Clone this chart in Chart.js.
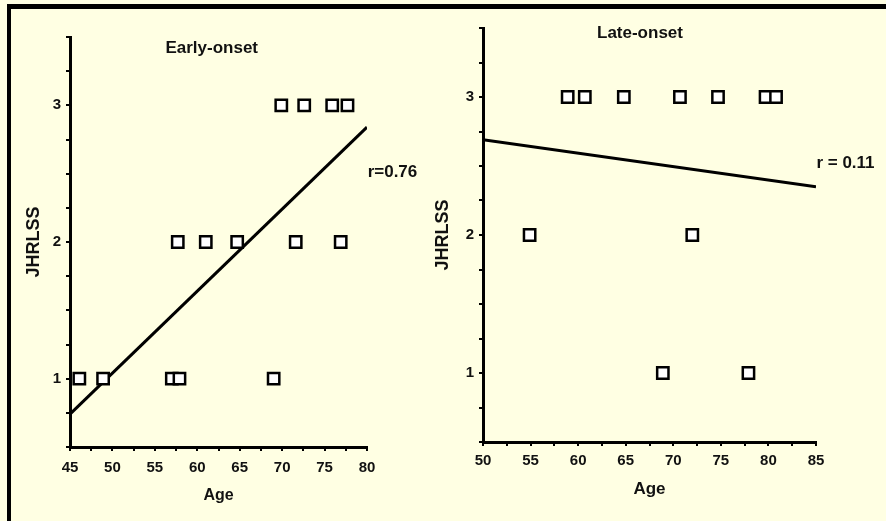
<!DOCTYPE html>
<html>
<head>
<meta charset="utf-8">
<script src="https://cdn.jsdelivr.net/npm/chart.js@4.4.1/dist/chart.umd.min.js"></script>
<style>
  html, body { margin:0; padding:0; background:#FFFFE3; width:886px; height:521px; overflow:hidden; }
  #frame { position:absolute; left:7px; top:4px; width:879px; height:513px; border-top:5px solid #000; border-left:4px solid #000; border-bottom:2px solid #444; box-sizing:content-box; }
  canvas { position:absolute; top:0; }
  #c1 { left:0; }
  #c2 { left:420px; }
</style>
</head>
<body>
<div id="frame"></div>
<canvas id="c1" width="443" height="521"></canvas>
<canvas id="c2" width="466" height="521"></canvas>
<script>
// ---- Data ----
const earlyAge   = [46.1, 48.9, 57.0, 57.9, 69.0, 57.7, 61.0, 64.7, 71.6, 76.9, 69.9, 72.6, 75.9, 77.7];
const earlyScore = [1, 1, 1, 1, 1, 2, 2, 2, 2, 2, 3, 3, 3, 3];
const earlyFitAge   = [45, 80];
const earlyFitScore = [0.74, 2.84];

const lateAge   = [54.9, 72.0, 68.9, 77.9, 58.9, 60.7, 64.8, 70.7, 74.7, 79.7, 80.8];
const lateScore = [2, 2, 1, 1, 3, 3, 3, 3, 3, 3, 3];
const lateFitAge   = [50, 85];
const lateFitScore = [2.69, 2.35];

const yTickLabels = [1, 2, 3];
const earlyXTickLabels = [45, 50, 55, 60, 65, 70, 75, 80];
const lateXTickLabels  = [50, 55, 60, 65, 70, 75, 80, 85];

const earlyTitle = "Early-onset";
const lateTitle  = "Late-onset";
const earlyR = "r=0.76";
const lateR  = "r = 0.11";
const xTitle = "Age";
const yTitle = "JHRLSS";

// annotation anchors in data space
const earlyTitlePos = [61.7, 3.42];
const earlyRPos     = [83.0, 2.51];
const lateTitlePos  = [66.5, 3.46];
const lateRPos      = [88.1, 2.52];

const FONT = "'Liberation Sans', Arial, Helvetica, sans-serif";

function pts(xs, ys){ return xs.map((x,i)=>({x:x, y:ys[i]})); }

const textPlugin = {
  id: 'txt',
  afterDraw(chart, args, opts){
    const ctx = chart.ctx, xs = chart.scales.x, ys = chart.scales.y;
    ctx.save();
    ctx.fillStyle = '#111';
    ctx.textAlign = 'center';
    ctx.textBaseline = 'middle';
    opts.items.forEach(it => {
      ctx.font = it.font;
      ctx.fillText(it.text, xs.getPixelForValue(it.pos[0]), ys.getPixelForValue(it.pos[1]));
    });
    ctx.restore();
  }
};

function makeChart(id, cfg){
  const c = cfg;
  return new Chart(document.getElementById(id), {
    type: 'scatter',
    data: {
      datasets: [
        {
          data: pts(c.ax, c.ay),
          pointStyle: 'rect',
          pointRadius: 8,
          pointHoverRadius: 8,
          pointBorderWidth: 2.5,
          pointBackgroundColor: '#ffffff',
          pointBorderColor: '#000000'
        },
        {
          data: pts(c.fx, c.fy),
          showLine: true,
          borderColor: '#000000',
          borderWidth: 3,
          pointRadius: 0,
          fill: false
        }
      ]
    },
    options: {
      responsive: false,
      animation: false,
      events: [],
      layout: { padding: c.padding },
      plugins: {
        legend: { display: false },
        tooltip: { enabled: false },
        txt: { items: c.items }
      },
      scales: {
        x: {
          type: 'linear',
          min: c.xmin, max: c.xmax,
          border: { display: true, color: '#000', width: 3 },
          grid: { display: true, drawOnChartArea: false, drawTicks: true, tickLength: 4, color: '#000', lineWidth: 2 },
          ticks: {
            stepSize: 2.5, autoSkip: false, maxRotation: 0, padding: c.xtkPad,
            color: '#111', font: { family: FONT, size: 15, weight: 'bold' },
            callback: v => c.xlabels.includes(v) ? String(v) : ''
          },
          title: { display: true, text: xTitle, color: '#111', font: { family: FONT, size: c.xtSize, weight: 'bold' }, padding: { top: 0, bottom: c.xtPad } },
          afterFit(s){ s.height = c.xh; s.paddingLeft = 0; s.paddingRight = 0; }
        },
        y: {
          type: 'linear',
          min: 0.5, max: 3.5,
          border: { display: true, color: '#000', width: 3 },
          grid: { display: true, drawOnChartArea: false, drawTicks: true, tickLength: 4, color: '#000', lineWidth: 2 },
          ticks: {
            stepSize: 0.25, autoSkip: false, padding: 5,
            color: '#111', font: { family: FONT, size: 15, weight: 'bold' },
            callback: v => yTickLabels.includes(v) ? String(v) : ''
          },
          title: { display: true, text: yTitle, color: '#111', font: { family: FONT, size: 18, weight: 'bold' }, padding: { top: c.ytPad, bottom: 0 } },
          afterFit(s){ s.width = c.yw; s.paddingTop = 0; s.paddingBottom = 0; }
        }
      }
    },
    plugins: [textPlugin]
  });
}

makeChart('c1', {
  ax: earlyAge, ay: earlyScore, fx: earlyFitAge, fy: earlyFitScore,
  xmin: 45, xmax: 80, xlabels: earlyXTickLabels,
  padding: { left: 0, top: 37, right: 76, bottom: 0 },
  xh: 74, yw: 70, xtSize: 16, xtPad: 16, ytPad: 23, xtkPad: 8,
  items: [
    { text: earlyTitle, pos: earlyTitlePos, font: "bold 17px " + FONT },
    { text: earlyR, pos: earlyRPos, font: "bold 17px " + FONT }
  ]
});

makeChart('c2', {
  ax: lateAge, ay: lateScore, fx: lateFitAge, fy: lateFitScore,
  xmin: 50, xmax: 85, xlabels: lateXTickLabels,
  padding: { left: 0, top: 28, right: 70, bottom: 0 },
  xh: 79, yw: 63, xtSize: 17, xtPad: 21, ytPad: 12, xtkPad: 6,
  items: [
    { text: lateTitle, pos: lateTitlePos, font: "bold 17px " + FONT },
    { text: lateR, pos: lateRPos, font: "bold 17px " + FONT }
  ]
});
</script>
</body>
</html>
